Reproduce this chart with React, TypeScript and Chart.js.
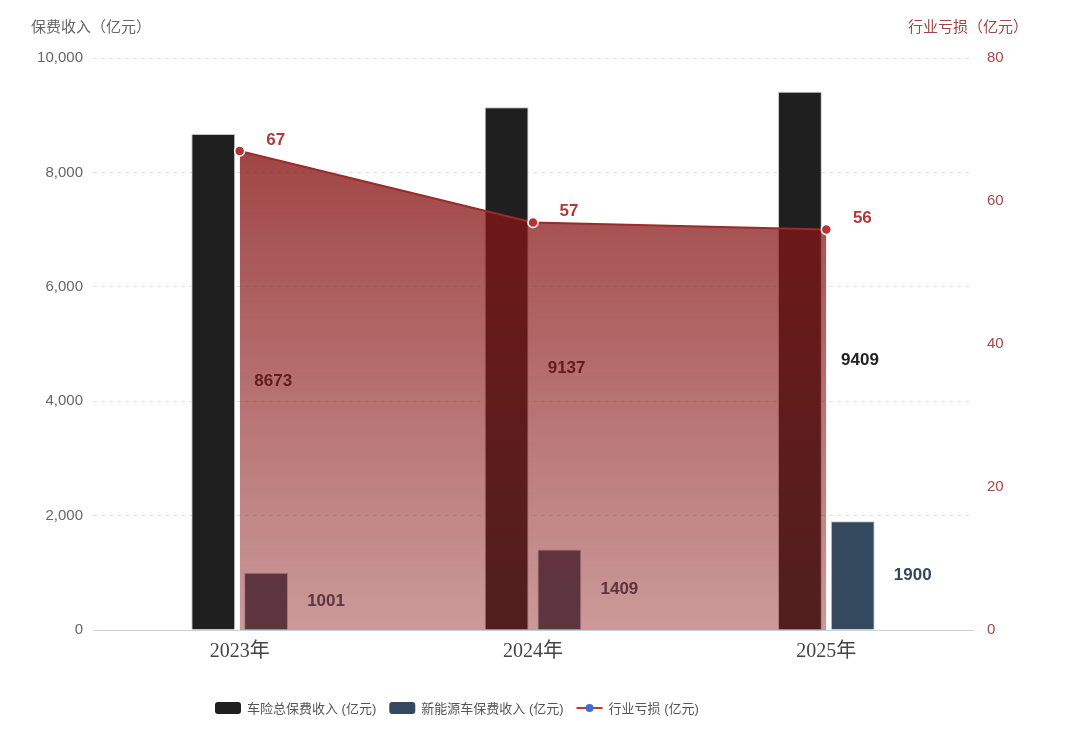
import React, { useEffect, useRef } from "react";
import { Chart, registerables } from "chart.js";

Chart.register(...registerables);

const categories = ["2023年", "2024年", "2025年"];
const totalPremium = [8673, 9137, 9409];
const nevPremium = [1001, 1409, 1900];
const industryLoss = [67, 57, 56];
const seriesNames = ["车险总保费收入 (亿元)", "新能源车保费收入 (亿元)", "行业亏损 (亿元)"];
const leftTitle = "保费收入（亿元）";
const rightTitle = "行业亏损（亿元）";

const SANS = '"Liberation Sans", Arial, "Noto Sans CJK SC", sans-serif';
const SERIF = '"Liberation Serif", "Times New Roman", "Noto Sans CJK SC", serif';

const BLACK = "#1f1f1f";
const SLATE = "#34495e";
const RED = "#9b2a2a";
const LABEL_RED = "#b03a3a";

const barLabelPlugin = {
  id: "barLabels",
  afterDatasetDraw(chart: any, args: any) {
    const meta = args.meta;
    if (meta.type !== "bar") return;
    const ctx = chart.ctx;
    const colors = ["#222222", SLATE];
    ctx.save();
    ctx.font = `bold 17px ${SANS}`;
    ctx.textAlign = "center";
    ctx.textBaseline = "middle";
    ctx.fillStyle = colors[args.index] || "#222";
    const data = chart.data.datasets[args.index].data;
    meta.data.forEach((el: any, i: number) => {
      const x = el.x + 60;
      const y = (el.y + el.base) / 2;
      ctx.fillText(String(data[i]), x, y);
    });
    ctx.restore();
  },
  afterDatasetsDraw(chart: any) {
    const ctx = chart.ctx;
    const meta = chart.getDatasetMeta(2);
    ctx.save();
    ctx.font = `bold 17px ${SANS}`;
    ctx.textAlign = "center";
    ctx.textBaseline = "middle";
    ctx.fillStyle = LABEL_RED;
    meta.data.forEach((el: any, i: number) => {
      ctx.fillText(String(industryLoss[i]), el.x + 36, el.y - 11);
    });
    ctx.restore();
  },
  afterDraw(chart: any) {
    const ctx = chart.ctx;
    ctx.save();
    // axis titles
    ctx.font = `15px ${SANS}`;
    ctx.textBaseline = "middle";
    ctx.textAlign = "left";
    ctx.fillStyle = "#666";
    ctx.fillText(leftTitle, 31, 28);
    ctx.textAlign = "right";
    ctx.fillStyle = "#a04545";
    ctx.fillText(rightTitle, 1028, 28);

    // legend
    ctx.font = `13px ${SANS}`;
    ctx.textAlign = "left";
    let x = 215;
    const y = 708;
    const boxW = 26;
    const boxH = 12;
    for (let i = 0; i < 3; i++) {
      if (i < 2) {
        ctx.fillStyle = i === 0 ? BLACK : SLATE;
        ctx.beginPath();
        (ctx as any).roundRect(x, y - boxH / 2, boxW, boxH, 3);
        ctx.fill();
      } else {
        ctx.strokeStyle = "#c0392b";
        ctx.lineWidth = 2;
        ctx.beginPath();
        ctx.moveTo(x, y);
        ctx.lineTo(x + boxW, y);
        ctx.stroke();
        ctx.fillStyle = "#3b6fd6";
        ctx.beginPath();
        ctx.arc(x + boxW / 2, y, 4, 0, Math.PI * 2);
        ctx.fill();
      }
      x += boxW + 6;
      ctx.fillStyle = "#555";
      ctx.fillText(seriesNames[i], x, y + 1);
      x += ctx.measureText(seriesNames[i]).width + 13;
    }
    ctx.restore();
  },
};

export default function App() {
  const ref = useRef<HTMLCanvasElement>(null);
  useEffect(() => {
    if (!ref.current) return;
    Chart.defaults.font.family = SANS;
    const chart = new Chart(ref.current, {
      type: "bar",
      data: {
        labels: categories,
        datasets: [
          {
            type: "bar",
            label: seriesNames[0],
            data: totalPremium,
            backgroundColor: BLACK,
            borderColor: "rgba(190,190,190,0.9)",
            borderWidth: 1,
            yAxisID: "y",
            order: 1,
            categoryPercentage: 0.36,
            barPercentage: 0.83,
          },
          {
            type: "bar",
            label: seriesNames[1],
            data: nevPremium,
            backgroundColor: SLATE,
            borderColor: "rgba(190,190,190,0.9)",
            borderWidth: 1,
            yAxisID: "y",
            order: 1,
            categoryPercentage: 0.36,
            barPercentage: 0.83,
          },
          {
            type: "line",
            label: seriesNames[2],
            data: industryLoss,
            yAxisID: "y1",
            order: 0,
            borderColor: RED,
            borderWidth: 2,
            tension: 0,
            pointRadius: 5,
            pointBackgroundColor: "#b53333",
            pointBorderColor: "#ffffff",
            pointBorderWidth: 1.5,
            fill: "origin",
            backgroundColor: (c: any) => {
              const area = c.chart.chartArea;
              if (!area) return "rgba(140,25,25,0.6)";
              const g = c.chart.ctx.createLinearGradient(0, area.top, 0, area.bottom);
              g.addColorStop(0, "rgba(134,18,18,0.86)");
              g.addColorStop(1, "rgba(140,30,30,0.45)");
              return g;
            },
          } as any,
        ],
      },
      options: {
        responsive: false,
        animation: false,
        devicePixelRatio: 1,
        layout: { padding: { top: 58, left: 0, right: 0, bottom: 0 } },
        plugins: {
          legend: { display: false },
          tooltip: { enabled: false },
          title: { display: false },
        },
        scales: {
          x: {
            type: "category",
            offset: true,
            grid: { display: false, drawTicks: false },
            border: { display: true, color: "#c9d2dc", width: 1 },
            ticks: { padding: 10, color: "#444", font: { family: SERIF, size: 20 } },
            afterFit: (s: any) => {
              s.height = 113;
            },
          },
          y: {
            type: "linear",
            position: "left",
            min: 0,
            max: 10000,
            ticks: {
              stepSize: 2000,
              padding: 10,
              color: "#666",
              font: { size: 15, family: SANS },
              callback: (v: any) => Number(v).toLocaleString("en-US"),
            },
            grid: { color: "#e2e2e2", drawTicks: false, lineWidth: 1 },
            border: { display: false, dash: [4, 4] },
            afterFit: (s: any) => {
              s.width = 93;
            },
          },
          y1: {
            type: "linear",
            position: "right",
            min: 0,
            max: 80,
            ticks: {
              stepSize: 20,
              padding: 14,
              color: "#a54848",
              font: { size: 15, family: SANS },
            },
            grid: { display: false, drawOnChartArea: false, drawTicks: false },
            border: { display: false },
            afterFit: (s: any) => {
              s.width = 107;
            },
          },
        } as any,
      },
      plugins: [barLabelPlugin],
    } as any);
    return () => chart.destroy();
  }, []);

  return (
    <div
      style={{
        position: "fixed",
        left: 0,
        top: 0,
        width: 1080,
        height: 743,
        background: "#fff",
      }}
    >
      <canvas ref={ref} width={1080} height={743} style={{ width: 1080, height: 743, display: "block" }} />
    </div>
  );
}
